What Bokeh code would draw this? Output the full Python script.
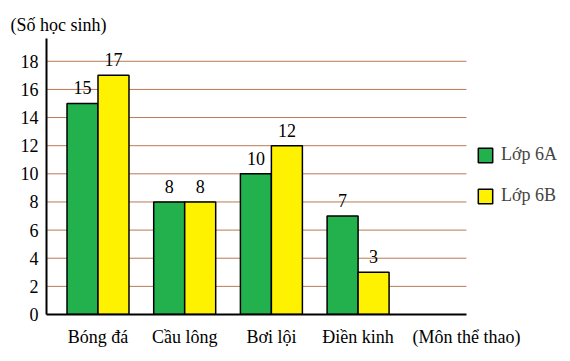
from bokeh.plotting import figure
from bokeh.models import (ColumnDataSource, Range1d, FixedTicker, Legend, LegendItem,
                          LabelSet)
from bokeh.core.properties import value
from bokeh.transform import dodge
from bokeh.embed import file_html
from bokeh.resources import INLINE

categories = ["Bóng đá", "Cầu lông", "Bơi lội", "Điền kinh"]
class_6a = [15, 8, 10, 7]
class_6b = [17, 8, 12, 3]
y_ticks = [0, 2, 4, 6, 8, 10, 12, 14, 16, 18]
series_names = ["Lớp 6A", "Lớp 6B"]
y_title = "(Số học sinh)"
x_title = "(Môn thể thao)"

FONT = "Liberation Serif"
GREEN = "#22b14c"
YELLOW = "#fff200"
GRID = "#b97a57"

X_START, AXIS_END, X_END = -0.594, 4.25, 5.45
Y_END = 19.62

xs = list(range(len(categories)))
src = ColumnDataSource(dict(x=xs, a=class_6a, b=class_6b,
                            la=[str(v) for v in class_6a],
                            lb=[str(v) for v in class_6b]))

p = figure(width=570, height=361, output_backend="svg", toolbar_location=None,
           x_range=Range1d(X_START, X_END), y_range=Range1d(0, Y_END),
           min_border_left=46, min_border_right=0, min_border_top=38,
           min_border_bottom=47, title=y_title)
p.outline_line_color = None
p.background_fill_color = "white"
p.title.align = "left"
p.title.offset = -36
p.title.standoff = 7
p.title.text_font = FONT
p.title.text_font_size = "18px"
p.title.text_font_style = "normal"
p.title.text_color = "black"

# horizontal grid lines, ending at the end of the x axis
grid_y = y_ticks[1:]
p.segment(x0=[X_START] * len(grid_y), x1=[AXIS_END] * len(grid_y), y0=grid_y, y1=grid_y,
          line_color=GRID, line_width=1, level="underlay")

bw = 0.3575
ra = p.vbar(x=dodge("x", -bw / 2, range=p.x_range), top="a", width=bw, source=src,
            fill_color=GREEN, line_color="black", line_width=1.5)
rb = p.vbar(x=dodge("x", bw / 2, range=p.x_range), top="b", width=bw, source=src,
            fill_color=YELLOW, line_color="black", line_width=1.5)

for col, lab, off in (("a", "la", -bw / 2), ("b", "lb", bw / 2)):
    p.add_layout(LabelSet(x=dodge("x", off, range=p.x_range), y=col, text=lab, source=src,
                          text_align="center", text_baseline="alphabetic", y_offset=9,
                          text_font=value(FONT), text_font_size="18px",
                          text_color="black"))

# axes
x_tick_pos = xs + [AXIS_END]
p.xaxis.ticker = FixedTicker(ticks=x_tick_pos)
overrides = {i: c for i, c in enumerate(categories)}
overrides[AXIS_END] = x_title
p.xaxis.major_label_overrides = overrides
p.xaxis.bounds = (X_START, AXIS_END)
p.yaxis.ticker = FixedTicker(ticks=y_ticks)
for ax in (p.xaxis, p.yaxis):
    ax.major_tick_line_color = None
    ax.minor_tick_line_color = None
    ax.major_tick_out = 0
    ax.major_tick_in = 0
    ax.axis_line_color = "black"
    ax.major_label_text_font = FONT
    ax.major_label_text_font_size = "18px"
    ax.major_label_text_color = "black"
p.yaxis.axis_line_width = 2
p.xaxis.axis_line_width = 2
p.yaxis.major_label_standoff = 8
p.xaxis.major_label_standoff = 12

p.xgrid.grid_line_color = None
p.ygrid.grid_line_color = None

legend = Legend(items=[LegendItem(label=series_names[0], renderers=[ra]),
                       LegendItem(label=series_names[1], renderers=[rb])],
                location=(430, 108), padding=0, margin=0, spacing=20,
                glyph_width=18, glyph_height=18, label_standoff=7,
                label_text_font=FONT, label_text_font_size="18px",
                border_line_color=None, background_fill_alpha=0)
p.add_layout(legend)

open("out.html", "w").write(file_html(p, INLINE))
